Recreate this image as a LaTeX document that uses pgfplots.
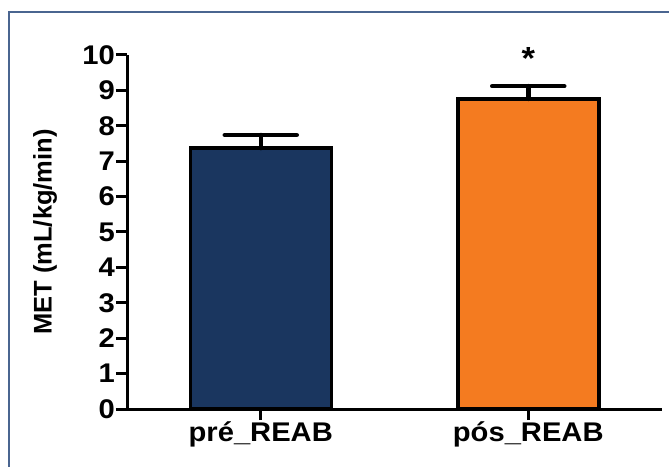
\documentclass[border=0pt]{standalone}
\usepackage{fontspec}
\setmainfont{Liberation Sans}
\newfontfamily\wide{Liberation Sans}[FakeStretch=1.08]
\usepackage{pgfplots}
\pgfplotsset{compat=1.18}
\definecolor{barblue}{HTML}{1A365F}
\definecolor{barorange}{HTML}{F47B20}
\definecolor{frame}{HTML}{4A6590}
\begin{document}
\begin{tikzpicture}
\useasboundingbox (0,0) rectangle (669pt,466pt);
\fill[white] (0,0) rectangle (669pt,466pt);
\draw[frame, line width=1.6pt] (9pt,-5pt) -- (9pt,454pt) -- (675pt,454pt);
\begin{axis}[
  scale only axis,
  width=535pt, height=354pt,
  at={(127pt,57pt)}, anchor=south west,
  xmin=0.5, xmax=2.5, ymin=0, ymax=10,
  axis x line*=bottom, axis y line*=left,
  axis line style={line width=3pt, black},
  separate axis lines,
  x axis line style={-}, y axis line style={-},
  xtick={1,2}, xticklabels={pré\_REAB, pós\_REAB},
  ytick={0,1,...,10},
  tick align=outside,
  major tick length=11pt,
  tick style={line width=3pt, black},
  /pgf/number format/assume math mode=true,
  every tick label/.append style={font=\wide\bfseries\fontsize{27}{31}\selectfont},
  yticklabel style={inner sep=1pt},
  xticklabel style={inner sep=1pt},
  ylabel={MET (mL/kg/min)},
  ylabel style={font=\bfseries\fontsize{25.5}{30}\selectfont, at={(axis description cs:-0.153,0.5)}, anchor=center},
  ybar, bar width=141pt, bar shift=0pt,
  clip=false,
]
\addplot[fill=barblue, draw=black, line width=3.5pt,
  error bars/.cd, y dir=plus, y explicit,
  error bar style={line width=4.5pt, black, line cap=round},
  error mark options={rotate=90, mark size=36pt, line width=4.5pt, black, line cap=round}]
  coordinates {(1,7.37) +- (0,0.37)};
\addplot[fill=barorange, draw=black, line width=3.5pt,
  error bars/.cd, y dir=plus, y explicit,
  error bar style={line width=4.5pt, black, line cap=round},
  error mark options={rotate=90, mark size=36pt, line width=4.5pt, black, line cap=round}]
  coordinates {(2,8.76) +- (0,0.36)};
\node[anchor=base, font=\wide\bfseries\fontsize{32}{36}\selectfont, inner sep=0pt] at (axis cs:2,9.58) {*};
\end{axis}
\end{tikzpicture}
\end{document}
